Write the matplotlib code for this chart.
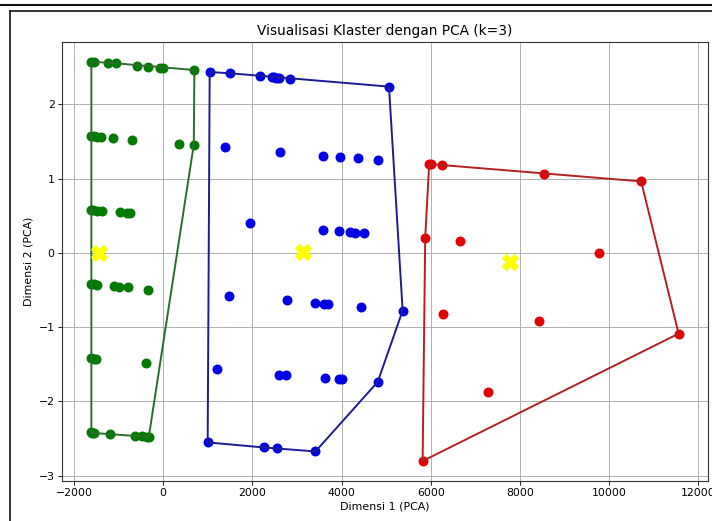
import numpy as np
import matplotlib
matplotlib.use("Agg")
import matplotlib.pyplot as plt
from matplotlib.lines import Line2D

# cluster 0 (green)
green_x = [-1610, -1560, -1240, -1068, -582, -345, -76, 0, 700,
           -1610, -1552, -1477, -1402, -1134, -702, 365, 686,
           -1610, -1566, -1477, -1365, -978, -805, -746,
           -1610, -1552, -1492, -1105, -993, -783, -336,
           -1610, -1552, -1515, -396,
           -1610, -1588, -1543, -1201, -642, -470, -373, -322]
green_y = [2.569, 2.569, 2.56, 2.55, 2.52, 2.50, 2.49, 2.49, 2.46,
           1.571, 1.567, 1.563, 1.558, 1.545, 1.523, 1.469, 1.455,
           0.574, 0.570, 0.566, 0.561, 0.547, 0.539, 0.539,
           -0.418, -0.423, -0.427, -0.450, -0.464, -0.464, -0.495,
           -1.420, -1.425, -1.429, -1.482,
           -2.418, -2.422, -2.426, -2.439, -2.462, -2.472, -2.476, -2.476]

# cluster 1 (blue)
blue_x = [1043, 1506, 2161, 2438, 2490, 2534, 2586, 2848, 5063,
          1394, 2609, 3593, 3973, 4369, 4817,
          1937, 3593, 3937, 4197, 4302, 4503,
          1483, 2774, 3407, 3615, 3705, 4443, 5369,
          1208, 2602, 2752, 3631, 3944, 4004, 4810,
          998, 2251, 2550, 3414]
blue_y = [2.434, 2.416, 2.380, 2.367, 2.367, 2.358, 2.353, 2.340, 2.237,
          1.419, 1.352, 1.302, 1.294, 1.280, 1.253,
          0.399, 0.305, 0.291, 0.278, 0.270, 0.270,
          -0.575, -0.639, -0.674, -0.687, -0.687, -0.733, -0.778,
          -1.559, -1.640, -1.640, -1.685, -1.698, -1.698, -1.738,
          -2.552, -2.620, -2.633, -2.674]

# cluster 2 (red)
red_x = [5964, 5996, 6248, 8546, 10716, 5875, 6658, 9761, 6264, 8425, 11557, 7278, 5817]
red_y = [1.194, 1.194, 1.177, 1.065, 0.961, 0.206, 0.156, 0.0, -0.818, -0.922, -1.088, -1.869, -2.803]

# centroids
cent_x = [-1441, 3146, 7785]
cent_y = [0.0, 0.01, -0.12]


def convex_hull(pts):
    # monotone chain
    pts = sorted(set(map(tuple, pts)))
    def cross(o, a, b):
        return (a[0] - o[0]) * (b[1] - o[1]) - (a[1] - o[1]) * (b[0] - o[0])
    lower, upper = [], []
    for p in pts:
        while len(lower) >= 2 and cross(lower[-2], lower[-1], p) <= 0:
            lower.pop()
        lower.append(p)
    for p in reversed(pts):
        while len(upper) >= 2 and cross(upper[-2], upper[-1], p) <= 0:
            upper.pop()
        upper.append(p)
    hull = lower[:-1] + upper[:-1]
    hull.append(hull[0])
    return np.array(hull)


fig = plt.figure(figsize=(7.12, 5.21), dpi=100)
ax = fig.add_axes([62 / 712, 40 / 521, 646 / 712, 439 / 521])

clusters = [
    (green_x, green_y, "#007a00", "#2b6e2b"),
    (blue_x, blue_y, "#0000e6", "#1c1c96"),
    (red_x, red_y, "#e30000", "#b52020"),
]

for xs, ys, c, lc in clusters:
    ax.scatter(xs, ys, s=38, color=c, zorder=3)

for xs, ys, c, lc in clusters:
    h = convex_hull(np.column_stack([xs, ys]))
    ax.plot(h[:, 0], h[:, 1], color=lc, lw=1.4, zorder=4)

ax.scatter(cent_x, cent_y, s=125, marker="X", color="yellow", zorder=5)

ax.set_title("Visualisasi Klaster dengan PCA (k=3)", fontsize=9.9, pad=5)
ax.set_xlabel("Dimensi 1 (PCA)", fontsize=7.9, labelpad=2)
ax.set_ylabel("Dimensi 2 (PCA)", fontsize=7.9, labelpad=4)
ax.tick_params(labelsize=7.8, length=2.8, width=0.6, pad=2.5)
ax.grid(True, color="#b0b0b0", lw=0.7)
ax.set_axisbelow(True)
for sp in ax.spines.values():
    sp.set_linewidth(0.8)
    sp.set_color("#333333")

# screenshot frame
fig.add_artist(Line2D([0, 1], [1 - 5.3 / 521] * 2, transform=fig.transFigure, color="#111111", lw=1.5))
fig.add_artist(Line2D([10 / 712, 1], [1 - 11 / 521] * 2, transform=fig.transFigure, color="#111111", lw=1.2))
fig.add_artist(Line2D([10 / 712] * 2, [0, 1 - 11 / 521], transform=fig.transFigure, color="#111111", lw=1.2))

fig.savefig("out.png", dpi=100)
